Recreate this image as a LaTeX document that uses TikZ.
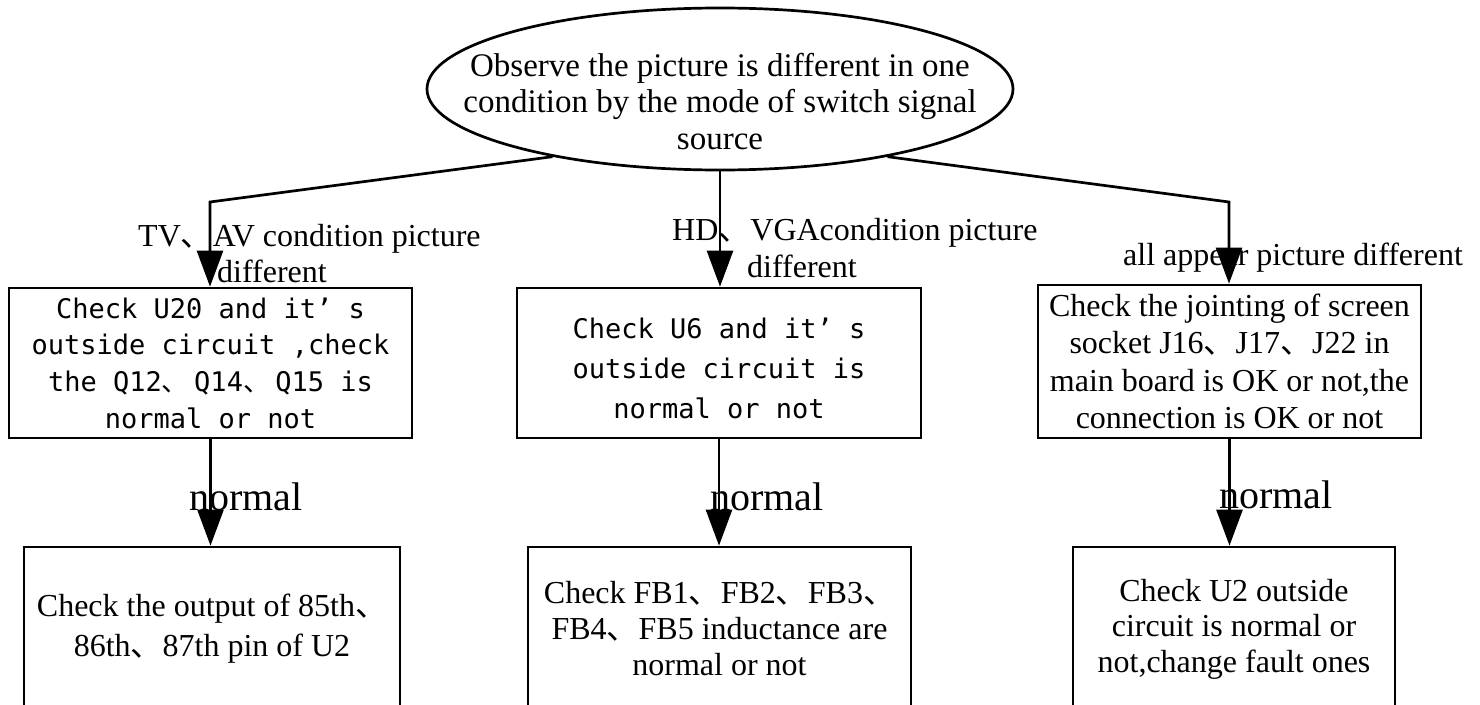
\documentclass[tikz,border=0pt]{standalone}
\usepackage{fontspec}
\setmainfont{Liberation Serif}
\newfontfamily\boxmono{DejaVu Sans Mono}
\newfontfamily\cjk{Noto Sans CJK SC}
\newcommand\dun{{\cjk 、}}
\newcommand\mdun{\makebox[1.2em][l]{\cjk 、}}
\usetikzlibrary{shapes.geometric,arrows.meta}
\begin{document}
\begin{tikzpicture}[x=1pt,y=-1pt,
  boxnode/.style={draw, line width=2.7pt, inner sep=0pt, align=center, fill=white},
  conn/.style={line width=2.7pt, -{Triangle[length=36pt,width=26pt]}},
  lbl/.style={inner sep=0pt, font=\fontsize{32}{36}\selectfont},
  okl/.style={inner sep=0pt, anchor=base west, font=\fontsize{40}{48}\selectfont}]
\path[use as bounding box] (0,0) rectangle (1480,704);
\clip (0,0) rectangle (1480,704);
% root
\node[ellipse, draw, line width=2.7pt, fill=white, minimum width=586pt, minimum height=162pt, inner sep=0pt] (root) at (720,89) {};
\node[align=center, inner sep=0pt, font=\fontsize{33}{36.5}\selectfont] (roottext) at (720,101.5) {Observe the picture is different in one\\condition by the mode of switch signal\\source};
% second row
\node[boxnode, minimum width=403pt, minimum height=150pt, font={\boxmono\fontsize{27}{36.7}\selectfont}] (b1) at (210.5,363) {Check U20 and it’ s\\outside circuit ,check\\the Q12\mdun Q14\mdun Q15 is\\normal or not};
\node[boxnode, minimum width=404pt, minimum height=150pt, font={\boxmono\fontsize{27}{40}\selectfont}] (b2) at (719,363) {\rule{0pt}{31pt}Check U6 and it’ s\\outside circuit is\\normal or not};
\node[boxnode, minimum width=383pt, minimum height=153pt, font=\fontsize{32}{37.3}\selectfont] (b3) at (1229.5,361.5) {Check the jointing of screen\\socket J16\dun{}J17\dun{}J22 in\\main board is OK or not,the\\connection is OK or not};
% third row
\node[boxnode, minimum width=376pt, minimum height=164pt, font=\fontsize{32}{40}\selectfont] (b4) at (212,629) {Check the output of 85th\dun\\86th\dun{}87th pin of U2};
\node[boxnode, minimum width=383pt, minimum height=164pt, font=\fontsize{32}{36}\selectfont] (b5) at (719.5,629) {Check FB1\dun{}FB2\dun{}FB3\dun\\FB4\dun{}FB5 inductance are\\normal or not};
\node[boxnode, minimum width=322pt, minimum height=164pt, font=\fontsize{32}{35.5}\selectfont] (b6) at (1234,629) {Check U2 outside\\circuit is normal or\\not,change fault ones};
% labels
\node[lbl, align=left, anchor=north west] (l1) at (138,224) {TV\dun{}AV condition picture\\\hspace*{79pt}different};
\node[lbl, align=left, anchor=north west, font=\fontsize{32}{37}\selectfont] (l2) at (672,218) {HD\dun{}VGAcondition picture\\\hspace*{75pt}different};
\node[lbl, anchor=base west] (l3) at (1123,265) {all appear picture different};
\node[okl] (n1) at (189,510) {normal};
\node[okl] (n2) at (710,510) {normal};
\node[okl] (n3) at (1219,508) {normal};
% connectors
\coordinate (c1) at (210,202);
\coordinate (c3) at (1229,202);
\draw[conn] (root.202) -- (c1) -- (c1 |- b1.north);
\draw[conn] (root.south) -- (root.south |- b2.north);
\draw[conn] (root.338) -- (c3) -- (c3 |- b3.north);
\draw[conn] (b1.south) -- (b1.south |- b4.north);
\draw[conn] (b2.south) -- (b2.south |- b5.north);
\draw[conn] (b3.south) -- (b3.south |- b6.north);
\end{tikzpicture}
\end{document}
